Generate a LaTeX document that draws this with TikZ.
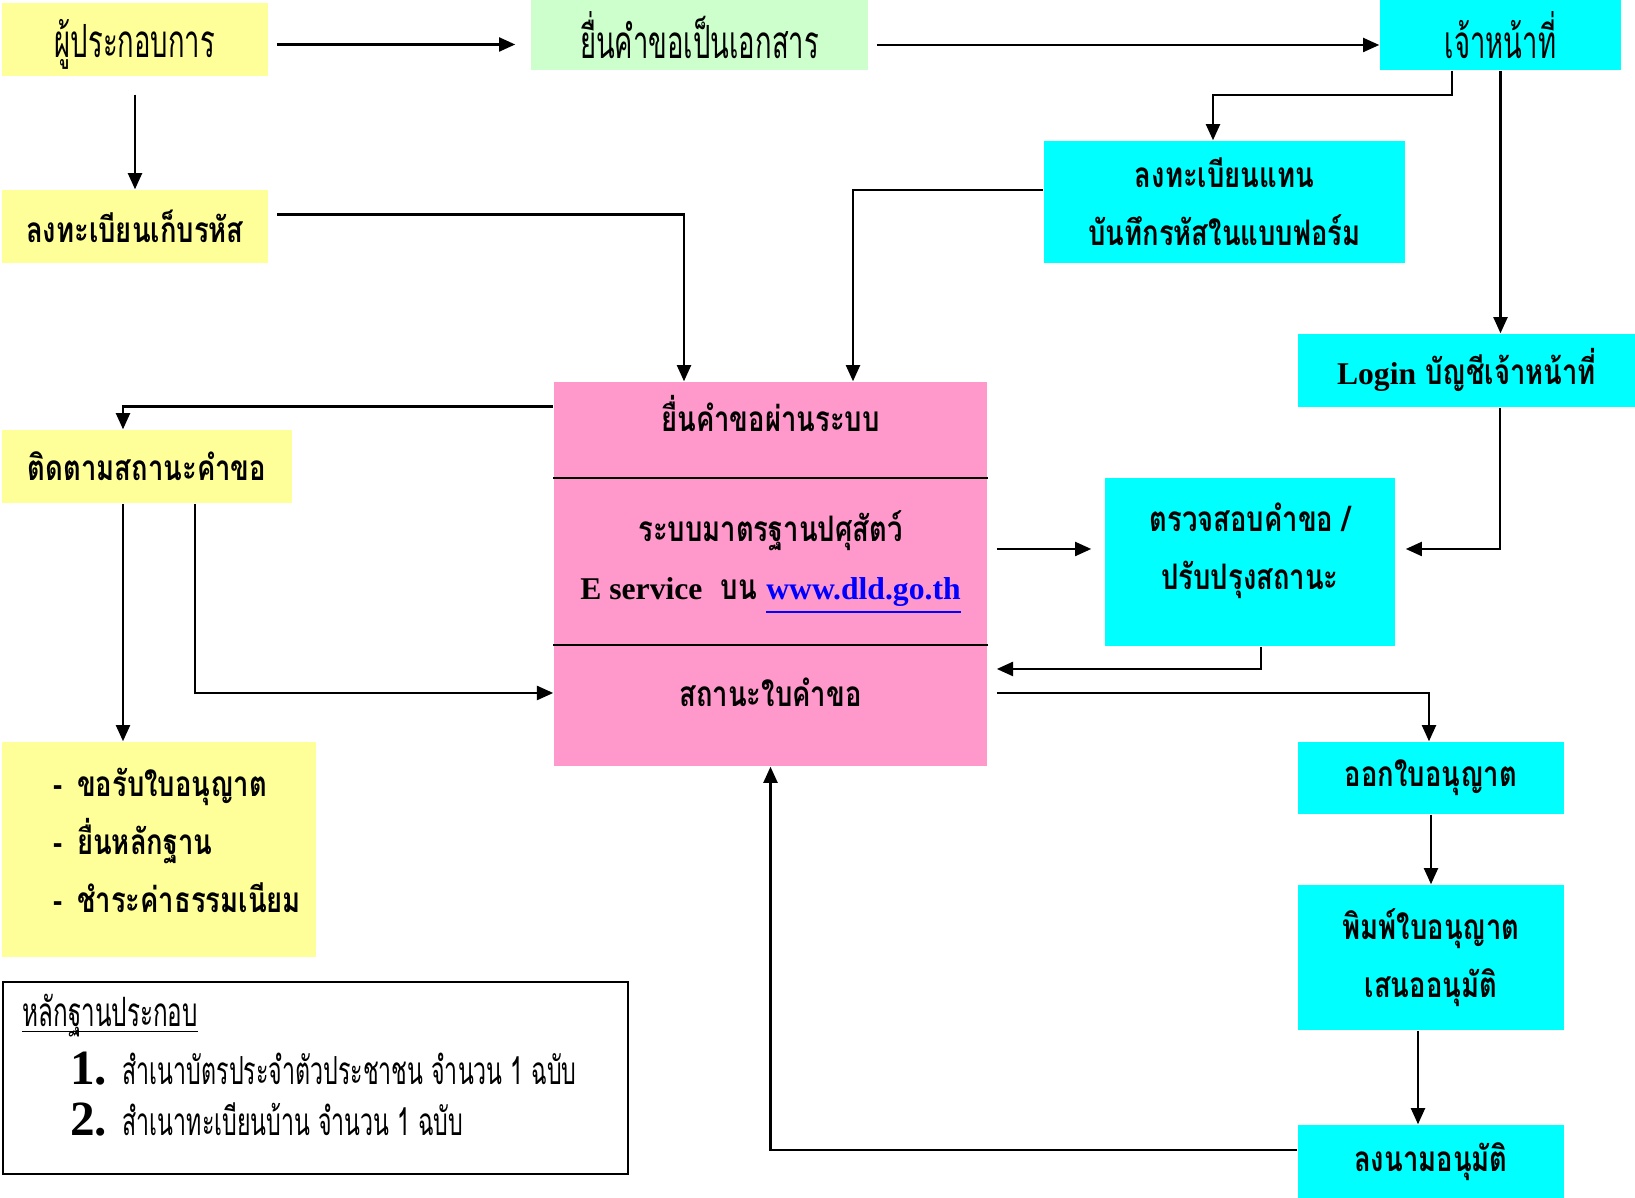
\documentclass[tikz,border=0pt]{standalone}
\usepackage{fontspec}
\setmainfont{Liberation Serif}
\newfontfamily\thaifont[Script=Thai,FakeStretch=0.78]{Loma}
\newfontfamily\thainarrow[Script=Thai,FakeStretch=0.6]{Loma}
\newfontfamily\latinfont{Liberation Serif}
\newcommand\engtext[1]{{\latinfont\fontsize{9}{16.5}\selectfont #1}}
\usetikzlibrary{calc,positioning,arrows.meta}
\definecolor{opyellow}{HTML}{FFFF99}
\definecolor{papergreen}{HTML}{CCFFCC}
\definecolor{staffcyan}{HTML}{00FFFF}
\definecolor{syspink}{HTML}{FF99CC}
\definecolor{linkblue}{HTML}{0000FF}
\tikzset{
	box/.style={
		rectangle,
		inner sep=0pt,
		align=center,
		font=\thaifont\bfseries\fontsize{10}{16.5}\selectfont
	},
	boxsize/.style 2 args={
		minimum width=#1,
		minimum height=#2
	},
	narrow/.style={
		font=\thainarrow\fontsize{#1}{16}\selectfont
	},
	narrow/.default=13,
	yellowbox/.style={box, fill=opyellow},
	greenbox/.style={box, fill=papergreen},
	cyanbox/.style={box, fill=staffcyan},
	pinkbox/.style={box, fill=syspink},
	flow/.style={
		draw,
		line width=0.6pt,
		-{Triangle[length=4.6pt,width=4pt]}
	},
}

\begin{document}
\begin{tikzpicture}[x=0.01cm,y=-0.01cm]
	\useasboundingbox (0,0) rectangle (1635,1198);
	% applicant side
	\node[yellowbox, narrow, boxsize={2.66cm}{0.73cm}, text height=0.48cm] (opr) at (135,39.5) {ผู้ประกอบการ};
	\node[greenbox, narrow, boxsize={3.37cm}{0.70cm}] (paper) at (699.5,35) {ยื่นคำขอเป็นเอกสาร};
	\node[cyanbox, narrow, boxsize={2.41cm}{0.70cm}] (staff) at (1500.5,35) {เจ้าหน้าที่};
	\node[yellowbox, boxsize={2.66cm}{0.73cm}] (reg) at (135,226.5) {ลงทะเบียนเก็บรหัส};
	\node[cyanbox, boxsize={3.61cm}{1.22cm}] (regfor) at (1224.5,202) {ลงทะเบียนแทน\\บันทึกรหัสในแบบฟอร์ม};
	\node[cyanbox, boxsize={3.37cm}{0.73cm}] (login) at (1466.5,370.5) {\engtext{Login} บัญชีเจ้าหน้าที่};
	\node[yellowbox, boxsize={2.90cm}{0.73cm}] (track) at (147,466.5) {ติดตามสถานะคำขอ};
	\node[yellowbox, boxsize={3.14cm}{2.15cm}, align=left, text width=2.1cm, text depth=1.35cm] (todo) at (159,849.5) {\mbox{-\hspace{4pt}ขอรับใบอนุญาต}\\\mbox{-\hspace{4pt}ยื่นหลักฐาน}\\\mbox{-\hspace{4pt}ชำระค่าธรรมเนียม}};

	% e-service system
	\node[pinkbox, boxsize={4.33cm}{0.97cm}, text depth=0.34cm] (systop) at (770.5,430.5) {ยื่นคำขอผ่านระบบ};
	\node[pinkbox, boxsize={4.33cm}{1.67cm}] (sysmid) at (770.5,562.5) {ระบบมาตรฐานปศุสัตว์\\\engtext{E service}\ \ บน \engtext{\color{linkblue}\underline{www.dld.go.th}}};
	\node[pinkbox, boxsize={4.33cm}{1.20cm}, text depth=0.27cm] (sysbot) at (770.5,706) {สถานะใบคำขอ};
	\draw[line width=0.6pt] (sysmid.north west) -- (sysmid.north east);
	\draw[line width=0.6pt] (sysbot.north west) -- (sysbot.north east);

	% staff side
	\node[cyanbox, boxsize={2.90cm}{1.68cm}, text depth=0.32cm] (check) at (1250,562) {ตรวจสอบคำขอ /\\ปรับปรุงสถานะ};
	\node[cyanbox, boxsize={2.66cm}{0.72cm}] (issue) at (1431,778) {ออกใบอนุญาต};
	\node[cyanbox, boxsize={2.66cm}{1.45cm}] (print) at (1431,957.5) {พิมพ์ใบอนุญาต\\เสนออนุมัติ};
	\node[cyanbox, boxsize={2.66cm}{0.73cm}] (sign) at (1431,1161.5) {ลงนามอนุมัติ};

	% documents
	\node[draw, line width=0.6pt, fill=white, boxsize={6.25cm}{1.92cm}] (docs) at (315.5,1078) {};
	\node[anchor=base west, inner sep=0pt, narrow=11.5] (docshead) at ($(docs.north west)+(20,46)$) {หลักฐานประกอบ};
	\draw[line width=0.5pt] ([yshift=-1.3pt]docshead.base west) -- ([yshift=-1.3pt]docshead.base east);
	\node[anchor=west, narrow=11] (docsone) at ($(docs.north west)+(56,88)$) {{\latinfont\bfseries\fontsize{14}{16}\selectfont 1.}\ \ สำเนาบัตรประจำตัวประชาชน จำนวน 1 ฉบับ};
	\node[anchor=west, narrow=11] (docstwo) at ($(docs.north west)+(56,139)$) {{\latinfont\bfseries\fontsize{14}{16}\selectfont 2.}\ \ สำเนาทะเบียนบ้าน จำนวน 1 ฉบับ};

	% connectors
	\draw[flow] ($(opr.east)+(8,5)$) -- ($(opr.east -| paper.west)+(-15,5)$);
	\draw[flow] ($(paper.east)+(8,10)$) -- ($(paper.east -| staff.west)+(0,10)$);
	\draw[flow, shorten <=0.18cm] (opr.south) -- (reg.north);
	\draw[flow] ($(staff.south)+(-48.5,0)$) -- ++(0,24) -| ($(regfor.north)+(-11.5,0)$);
	\draw[flow] (staff.south) -- (staff.south |- login.north);
	\draw[flow] ($(reg.east)+(8,-12)$) -| ($(systop.north)+(-86.5,0)$);
	\draw[flow] ($(regfor.west)+(0,-12)$) -| ($(systop.north)+(82.5,0)$);
	\draw[flow] ($(systop.west)+(0,-24)$) -| ($(track.north)+(-24,0)$);
	\draw[flow] ($(track.south)+(-24,0)$) coordinate (tl) -- (tl |- todo.north);
	\draw[flow] ($(track.south)+(48,0)$) |- ($(sysbot.west)+(0,-13)$);
	\draw[flow] ($(sysmid.east)+(9,-13.5)$) -- ($(check.west)+(-13,-13)$);
	\draw[flow] ($(login.south)+(33.5,0)$) |- ($(check.east)+(10,-13)$);
	\draw[flow] ($(check.south)+(11,0)$) |- ($(sysbot.east)+(9,-37)$);
	\draw[flow] ($(sysbot.east)+(9,-13)$) -| ($(issue.north)+(-2,0)$);
	\draw[flow] (issue.south) -- (print.north);
	\draw[flow] ($(print.south)+(-13,0)$) coordinate (pl) -- (pl |- sign.north);
	\draw[flow] ($(sign.west)+(0,-11.5)$) -| (sysbot.south);
\end{tikzpicture}
\end{document}
